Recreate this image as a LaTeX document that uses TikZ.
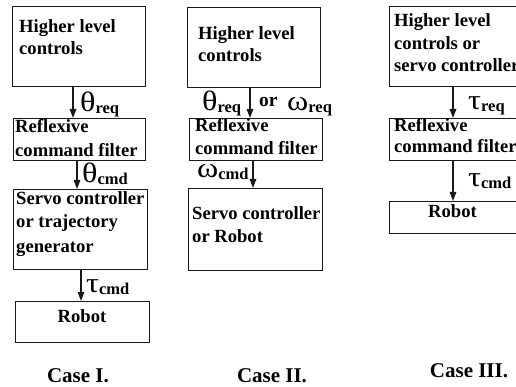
\documentclass[tikz,border=0pt]{standalone}
\usepackage{fontspec}
\setmainfont{Liberation Serif}
\usetikzlibrary{arrows.meta}

% signal label: large Greek symbol with a bold subscript
\newcommand{\siglab}[2]{\scalebox{1.15}[1]{\fontsize{28}{28}\selectfont #1}\raisebox{-2pt}{\fontsize{16.5}{16.5}\selectfont\bfseries #2}}

\tikzset{
  blk/.style={draw=black!90, line width=1.3pt, inner sep=0pt, anchor=north west},
  txt/.style={anchor=base west, inner sep=0pt, font=\fontsize{18.6}{22}\selectfont\bfseries},
  arr/.style={draw=black!90, line width=1.3pt, -{Triangle[length=9pt,width=6.5pt]}},
  sig/.style={anchor=base west, inner sep=0pt, text height=13pt, text depth=5pt},
  caselab/.style={anchor=base, inner sep=0pt, font=\fontsize{21}{21}\selectfont\bfseries},
}

\begin{document}
\begin{tikzpicture}[x=1pt,y=-1pt]
\useasboundingbox (0,0) rectangle (516,387);

% ---------- Case I ----------
\node[blk, minimum width=133pt, minimum height=80pt] (a1) at (12,6) {};
\node[txt] (a1l1) at (19,33) {Higher level};
\node[txt] (a1l2) at (19,55) {controls};

\node[blk, minimum width=132pt, minimum height=42pt] (a2) at (13,118) {};
\node[txt] (a2l1) at (15,133) {Reflexive};
\node[txt] (a2l2) at (15,157) {command filter};

\node[blk, minimum width=134pt, minimum height=80pt] (a3) at (13,189) {};
\node[txt] (a3l1) at (16,205) {Servo controller};
\node[txt] (a3l2) at (16,228) {or trajectory};
\node[txt] (a3l3) at (16,252) {generator};

\node[blk, minimum width=134pt, minimum height=41pt] (a4) at (15,301) {};
\node[txt, anchor=base] (a4l1) at (82,322) {Robot};

\draw[arr] (a1.south -| 73,0) -- (a2.north -| 73,0);
\draw[arr] (a2.south -| 77,0) -- (a3.north -| 77,0);
\draw[arr] (a3.south -| 81,0) -- (a4.north -| 81,0);

\node[sig] (s1) at (80,112) {\siglab{θ}{req}};
\node[sig] (s2) at (82,183) {\siglab{θ}{cmd}};
\node[sig] (s3) at (86,292) {\siglab{τ}{cmd}};

\node[caselab] (c1) at (78,382) {Case I.};

% ---------- Case II ----------
\node[blk, minimum width=133pt, minimum height=80pt] (b1) at (187,7) {};
\node[txt] (b1l1) at (198,40) {Higher level};
\node[txt] (b1l2) at (198,62) {controls};

\node[blk, minimum width=133pt, minimum height=42pt] (b2) at (189,118) {};
\node[txt] (b2l1) at (195,132) {Reflexive};
\node[txt] (b2l2) at (195,155) {command filter};

\node[blk, minimum width=134pt, minimum height=82pt] (b3) at (188,188) {};
\node[txt] (b3l1) at (192,220) {Servo controller};
\node[txt] (b3l2) at (192,243) {or Robot};

\draw[arr] (b1.south -| 250,0) -- (b2.north -| 250,0);
\draw[arr] (b2.south -| 253,0) -- (b3.north -| 253,0);

\node[sig] (s4) at (202,111) {\siglab{θ}{req}};
\node[sig, font=\fontsize{19.5}{19.5}\selectfont\bfseries] (s5) at (259,107) {or};
\node[sig, text height=10pt] (s6) at (287,111) {\siglab{ω}{req}};
\node[sig, text height=10pt] (s7) at (197,178) {\siglab{ω}{cmd}};

\node[caselab] (c2) at (272,382) {Case II.};

% ---------- Case III ----------
\node[blk, minimum width=140pt, minimum height=80pt] (d1) at (389,6) {};
\node[txt] (d1l1) at (394,27) {Higher level};
\node[txt] (d1l2) at (394,50) {controls or};
\node[txt] (d1l3) at (394,72) {servo controller};

\node[blk, minimum width=140pt, minimum height=42pt] (d2) at (389,118) {};
\node[txt] (d2l1) at (394,132) {Reflexive};
\node[txt] (d2l2) at (394,153) {command filter};

\node[blk, minimum width=140pt, minimum height=32pt] (d3) at (389,201) {};
\node[txt] (d3l1) at (428,218) {Robot};

\draw[arr] (d1.south -| 453,0) -- (d2.north -| 453,0);
\draw[arr] (d2.south -| 453,0) -- (d3.north -| 453,0);

\node[sig] (s8) at (468,110) {\siglab{τ}{req}};
\node[sig] (s9) at (468,187) {\siglab{τ}{cmd}};

\node[caselab] (c3) at (469,377) {Case III.};
\end{tikzpicture}
\end{document}
